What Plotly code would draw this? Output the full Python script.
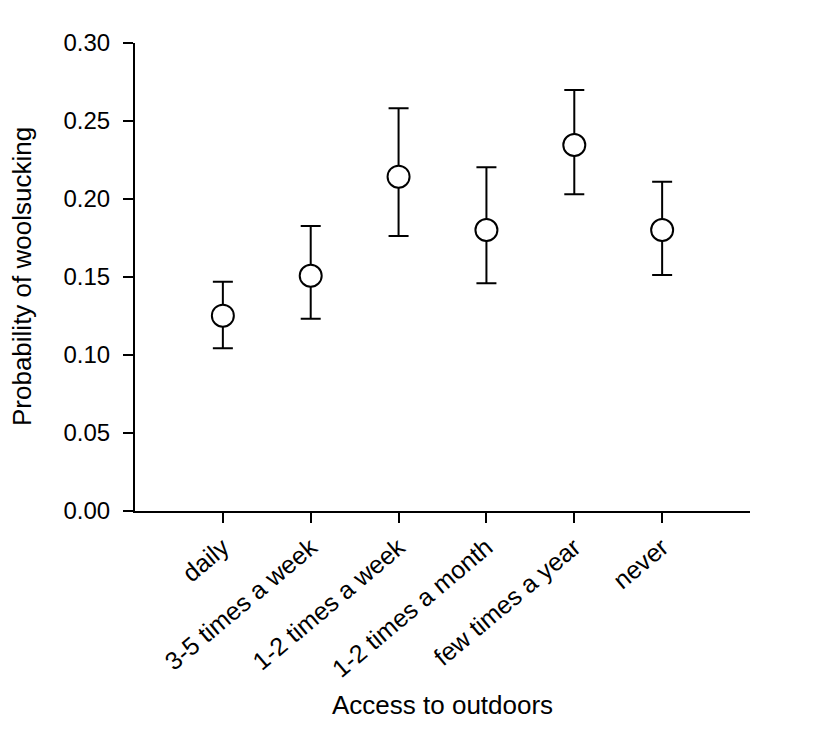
import plotly.graph_objects as go

categories = ["daily", "3-5 times a week", "1-2 times a week", "1-2 times a month", "few times a year", "never"]
positions = [1, 2, 3, 4, 5, 6]
prob = [0.1252, 0.1508, 0.2143, 0.1801, 0.2346, 0.1801]
upper = [0.1470, 0.1827, 0.2581, 0.2203, 0.2699, 0.2111]
lower = [0.1043, 0.1233, 0.1763, 0.1460, 0.2030, 0.1513]
y_ticks = [0.00, 0.05, 0.10, 0.15, 0.20, 0.25, 0.30]

err_plus = [u - p for u, p in zip(upper, prob)]
err_minus = [p - l for p, l in zip(prob, lower)]

FONT = "Liberation Sans, Arial, sans-serif"

fig = go.Figure()
fig.add_trace(go.Scatter(
    x=positions, y=prob, mode="markers",
    marker=dict(symbol="circle", size=22, color="white", line=dict(color="black", width=2)),
    error_y=dict(type="data", symmetric=False, array=err_plus, arrayminus=err_minus,
                 color="black", thickness=2, width=10),
    showlegend=False, cliponaxis=False,
))

fig.update_layout(
    width=816, height=739,
    margin=dict(l=127, r=74, t=35, b=236),
    paper_bgcolor="white", plot_bgcolor="white",
    font=dict(family=FONT, color="black"),
    xaxis=dict(range=[0, 7], tickvals=positions, ticktext=categories, tickangle=-40,
               showline=True, linecolor="black", linewidth=2, ticks="outside",
               ticklen=10, tickwidth=2, tickcolor="black", showgrid=False, zeroline=False,
               tickfont=dict(size=25, family=FONT), automargin=False),
    yaxis=dict(range=[0, 0.30], tickvals=y_ticks, tickformat=".2f",
               showline=True, linecolor="black", linewidth=2, ticks="outside",
               ticklen=10, tickwidth=2, tickcolor="black", showgrid=False, zeroline=False,
               ticklabelstandoff=8,
               tickfont=dict(size=24, family=FONT), automargin=False),
    annotations=[
        dict(text="Probability of woolsucking", xref="paper", yref="paper",
             x=-0.1837, y=0.5, xanchor="center", yanchor="middle", textangle=-90,
             showarrow=False, font=dict(size=26, family=FONT)),
        dict(text="Access to outdoors", xref="paper", yref="paper",
             x=0.5, y=-0.4145, xanchor="center", yanchor="middle",
             showarrow=False, font=dict(size=26, family=FONT)),
    ],
)

fig.write_html("out.html")
